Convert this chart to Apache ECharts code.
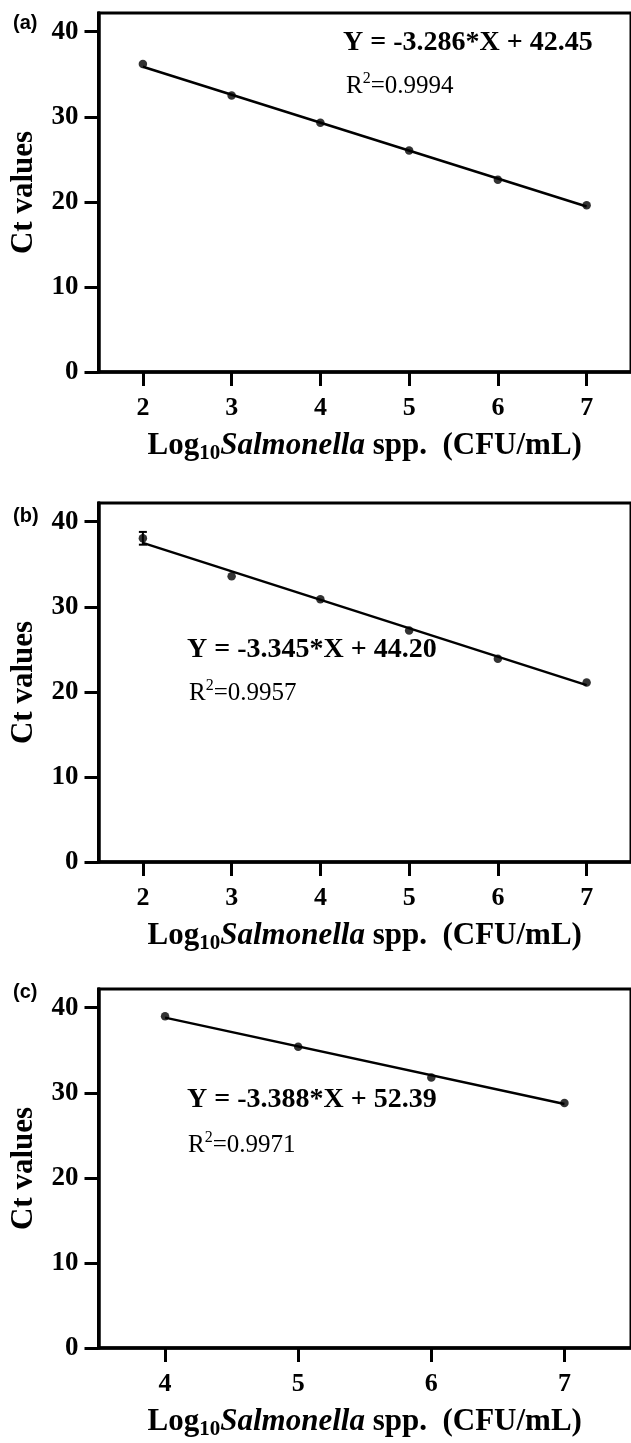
<!DOCTYPE html>
<html>
<head>
<meta charset="utf-8">
<script src="https://cdn.jsdelivr.net/npm/echarts@6/dist/echarts.min.js"></script>
<style>
  html, body { margin: 0; padding: 0; background: #ffffff; }
  #chart { width: 631px; height: 1443px; }
</style>
</head>
<body>
<div id="chart"></div>
<script>
// Standard curves: Ct value against log10 Salmonella spp. concentration
const logCountsAB = [2, 3, 4, 5, 6, 7];
const logCountsC = [4, 5, 6, 7];
const ctA = [36.2, 32.5, 29.3, 26.05, 22.6, 19.6];
const ctB = [38.05, 33.6, 30.9, 27.2, 23.9, 21.1];
const errB = [0.75, 0, 0, 0, 0, 0];
const ctC = [39.0, 35.4, 31.8, 28.8];
const slopes = [-3.286, -3.345, -3.388];
const intercepts = [42.45, 44.20, 52.39];
const rSquared = ['0.9994', '0.9957', '0.9971'];
const panelTags = ['(a)', '(b)', '(c)'];
const yTicks = [0, 10, 20, 30, 40];
const xTicksAB = [2, 3, 4, 5, 6, 7];
const xTicksC = [4, 5, 6, 7];

const SERIF = '"Liberation Serif", "Times New Roman", serif';
const SANS = '"Liberation Sans", Arial, sans-serif';

const panels = [
  { top: 13,  xs: logCountsAB, ys: ctA, err: null, xMin: 1.5, xTicks: xTicksAB },
  { top: 503, xs: logCountsAB, ys: ctB, err: errB, xMin: 1.5, xTicks: xTicksAB },
  { top: 989, xs: logCountsC,  ys: ctC, err: null, xMin: 3.5, xTicks: xTicksC }
];

const grid = [], xAxis = [], yAxis = [], series = [];

panels.forEach((p, i) => {
  grid.push({
    left: 97, top: p.top, width: 543, height: 359,
    show: true, borderColor: '#000', borderWidth: 3, backgroundColor: 'transparent'
  });
  xAxis.push({
    type: 'value', gridIndex: i, min: p.xMin, max: 7.5,
    axisLine: { show: true, onZero: false, lineStyle: { color: '#000', width: 3.5 } },
    axisTick: { show: true, length: 14, lineStyle: { color: '#000', width: 3 }, customValues: p.xTicks },
    axisLabel: { customValues: p.xTicks, margin: 23, color: '#000',
                 fontFamily: SERIF, fontWeight: 'bold', fontSize: 26 },
    splitLine: { show: false },
    name: '{n|Log}{s|10}{i|Salmonella}{n| spp.  (CFU/mL)}',
    nameLocation: 'middle', nameGap: 56,
    nameTextStyle: {
      color: '#000',
      rich: {
        n: { fontFamily: SERIF, fontWeight: 'bold', fontSize: 31, color: '#000', lineHeight: 36 },
        s: { fontFamily: SERIF, fontWeight: 'bold', fontSize: 21, color: '#000', lineHeight: 22, verticalAlign: 'bottom' },
        i: { fontFamily: SERIF, fontWeight: 'bold', fontStyle: 'italic', fontSize: 31, color: '#000', lineHeight: 36 }
      }
    }
  });
  yAxis.push({
    type: 'value', gridIndex: i, min: 0, max: 42.2,
    axisLine: { show: true, lineStyle: { color: '#000', width: 3.5 } },
    axisTick: { show: true, length: 14, lineStyle: { color: '#000', width: 3 }, customValues: yTicks },
    axisLabel: { customValues: yTicks, margin: 20, color: '#000',
                 fontFamily: SERIF, fontWeight: 'bold', fontSize: 27 },
    splitLine: { show: false },
    name: 'Ct values', nameLocation: 'middle', nameGap: 60,
    nameTextStyle: { color: '#000', fontFamily: SERIF, fontWeight: 'bold', fontSize: 31, lineHeight: 30 }
  });

  // regression line drawn from the stated equation over the measured range
  const x0 = p.xs[0], x1 = p.xs[p.xs.length - 1];
  series.push({
    type: 'line', xAxisIndex: i, yAxisIndex: i, symbol: 'none', silent: true, z: 2,
    lineStyle: { color: '#000', width: 2.5 },
    data: [[x0, slopes[i] * x0 + intercepts[i]], [x1, slopes[i] * x1 + intercepts[i]]]
  });
  series.push({
    type: 'scatter', xAxisIndex: i, yAxisIndex: i, symbol: 'circle', symbolSize: 8.5, z: 4,
    itemStyle: { color: '#000' },
    data: p.xs.map((x, k) => [x, p.ys[k]])
  });
  if (p.err) {
    series.push({
      type: 'custom', xAxisIndex: i, yAxisIndex: i, z: 3,
      encode: { x: 0, y: 1 },
      data: p.xs.map((x, k) => [x, p.ys[k], p.err[k]]),
      renderItem: function (params, api) {
        const x = api.value(0), y = api.value(1), e = api.value(2);
        if (!e) return null;
        const hi = api.coord([x, y + e]), lo = api.coord([x, y - e]);
        const hw = 4;
        const st = { stroke: '#000', lineWidth: 2 };
        return {
          type: 'group',
          children: [
            { type: 'line', shape: { x1: hi[0], y1: hi[1], x2: lo[0], y2: lo[1] }, style: st },
            { type: 'line', shape: { x1: hi[0] - hw, y1: hi[1], x2: hi[0] + hw, y2: hi[1] }, style: st },
            { type: 'line', shape: { x1: lo[0] - hw, y1: lo[1], x2: lo[0] + hw, y2: lo[1] }, style: st }
          ]
        };
      }
    });
  }
});

function txt(content, x, y, font, rich) {
  const style = { text: content, x: x, y: y, font: font, fill: '#000',
                  textAlign: 'left', textVerticalAlign: 'middle', align: 'left', verticalAlign: 'middle' };
  if (rich) style.rich = rich;
  return { type: 'text', z: 10, silent: true, style: style };
}

const supRich = {
  r: { fontFamily: SERIF, fontSize: 25, lineHeight: 28, fill: '#000', verticalAlign: 'bottom' },
  sup: { fontFamily: SERIF, fontSize: 16, lineHeight: 16, fill: '#000', verticalAlign: 'top' }
};

const eqPos = [[343, 43, 346, 88], [187, 650, 189, 695], [187, 1100, 188, 1147]];
const tagPos = [[13, 23], [13, 516], [13, 992]];
const graphic = [];
for (let i = 0; i < 3; i++) {
  const s = slopes[i].toFixed(3), b = intercepts[i].toFixed(2);
  graphic.push(txt('Y = ' + s + '*X + ' + b, eqPos[i][0], eqPos[i][1], 'bold 28px ' + SERIF));
  graphic.push(txt('{r|R}{sup|2}{r|=' + rSquared[i] + '}', eqPos[i][2], eqPos[i][3] - 3, '25px ' + SERIF, supRich));
  graphic.push(txt(panelTags[i], tagPos[i][0], tagPos[i][1], 'bold 20px ' + SANS));
}

const chart = echarts.init(document.getElementById('chart'), null, { renderer: 'canvas' });
chart.setOption({
  animation: false,
  backgroundColor: '#ffffff',
  grid: grid, xAxis: xAxis, yAxis: yAxis, series: series, graphic: graphic
});
</script>
</body>
</html>
